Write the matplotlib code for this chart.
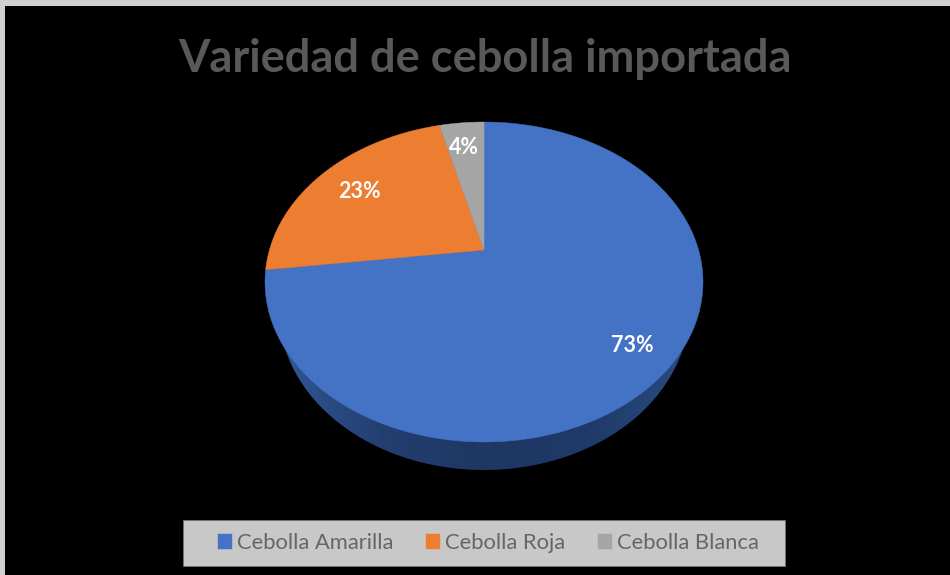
import numpy as np
import matplotlib
matplotlib.use("Agg")
import matplotlib.pyplot as plt
from matplotlib.colors import LinearSegmentedColormap
from matplotlib.patches import Ellipse, Polygon

categories = ["Cebolla Amarilla", "Cebolla Roja", "Cebolla Blanca"]
values = [73, 23, 4]
labels = ["73%", "23%", "4%"]
colors = ["#4472C4", "#ED7D31", "#A5A5A5"]
title = "Variedad de cebolla importada"

plt.rcParams['font.family'] = ['Lato', 'DejaVu Sans']

# the picture is laid out in pixels, so the axes just use pixel coords
fig = plt.figure(figsize=(9.5, 5.75), dpi=100, facecolor="#d0d0d0")
ax = fig.add_axes([0, 0, 1, 1])

# top of the pie: an ellipse, with the apex pushed back for the perspective
cx, cy, rx, ry = 484, 282, 219, 160
tilt = 0.2


def project(x, y):
    # maps the unit circle on itself, moving its centre up by tilt
    w = 1 + tilt * y
    new_x = x * np.sqrt(1 - tilt ** 2) / w
    new_y = (y + tilt) / w
    return np.column_stack([cx + rx * new_x, cy - ry * new_y])


wedges, _ = ax.pie(values, colors=colors, startangle=90, counterclock=False)

# side of the pie, darker in the middle
side_cmap = LinearSegmentedColormap.from_list(
    "side", ["#305796", "#233F70", "#1E3763", "#1F3A68", "#2A4A82"])
side = ax.imshow(np.linspace(0, 1, 256).reshape(1, -1), cmap=side_cmap,
                 extent=(279, 689, 470, 150), aspect="auto", zorder=1)
side.set_clip_path(Ellipse((484, 310), 410, 320, transform=ax.transData))

handles = []
for wedge, color in zip(wedges, colors):
    # rebuild each slice from the angles the pie gave it
    angles = np.radians(np.linspace(wedge.theta1, wedge.theta2, 300))
    x = np.concatenate([[0], np.cos(angles)])
    y = np.concatenate([[0], np.sin(angles)])
    wedge.remove()
    top = Polygon(project(x, y), closed=True, facecolor=color, edgecolor=color,
                  linewidth=0.3, zorder=2)
    ax.add_patch(top)
    handles.append(top)

ax.set_aspect("auto")
ax.set_xlim(0, 950)
ax.set_ylim(575, 0)
ax.axis("off")
ax.add_patch(plt.Rectangle((5, 6), 945, 569, facecolor="black", edgecolor="none", zorder=0))

ax.text(484.5, 59, title, color="#595959", fontsize=32.6, fontweight="bold",
        ha="center", va="center", zorder=3)

label_pos = [(632, 346), (359, 192), (464, 147)]
for text, (lx, ly) in zip(labels, label_pos):
    ax.text(lx, ly, text, color="white", fontsize=15.5, fontweight="bold",
            ha="center", va="center", zorder=3)

# legend strip
ax.add_patch(plt.Rectangle((183, 520), 602, 46, facecolor="#C8C8C8",
                           edgecolor="#777777", linewidth=0.5, zorder=3))
leg = ax.legend(handles, categories, ncols=3, loc="center", frameon=False,
                bbox_to_anchor=(488.5, 543), bbox_transform=ax.transData,
                fontsize=15.8, labelcolor="#666666", handlelength=0.64, handleheight=0.64,
                handletextpad=0.22, columnspacing=1.5)
leg.set_zorder(4)

fig.savefig("out.png", dpi=100, facecolor=fig.get_facecolor())
